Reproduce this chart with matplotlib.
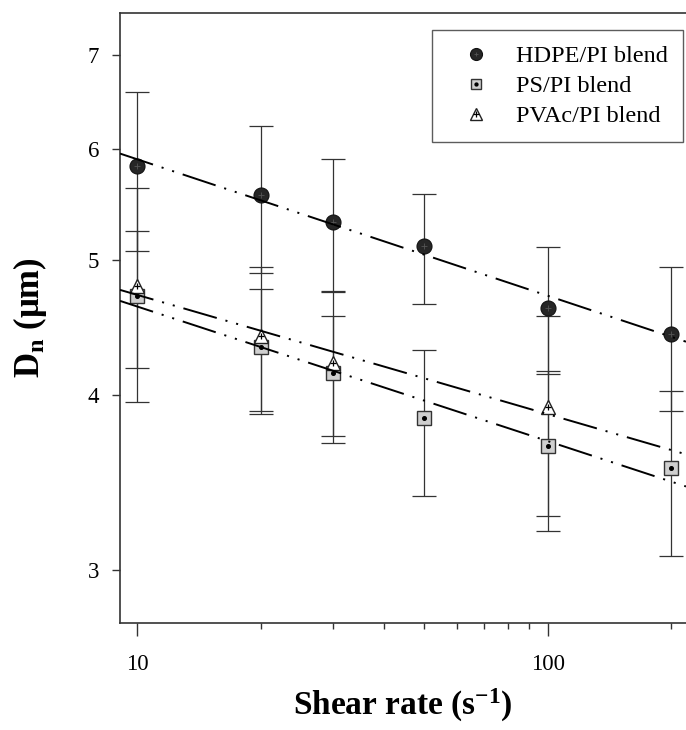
import numpy as np
import matplotlib
matplotlib.use("Agg")
import matplotlib.pyplot as plt
import matplotlib.ticker as mtick

plt.rcParams['font.family'] = ['Liberation Serif', 'DejaVu Serif']
plt.rcParams['mathtext.fontset'] = 'custom'
plt.rcParams['mathtext.rm'] = 'Liberation Serif'
plt.rcParams['mathtext.bf'] = 'Liberation Serif:bold'
plt.rcParams['mathtext.it'] = 'Liberation Serif:italic'
plt.rcParams['lines.scale_dashes'] = False

# data
hdpe_x = [10, 20, 30, 50, 100, 200]
hdpe_y = [5.83, 5.56, 5.32, 5.11, 4.62, 4.42]
hdpe_err = [0.76, 0.67, 0.58, 0.46, 0.48, 0.52]

ps_x = [10, 20, 30, 50, 100, 200]
ps_y = [4.71, 4.33, 4.15, 3.85, 3.68, 3.55]
ps_err = [0.53, 0.43, 0.41, 0.46, 0.48, 0.48]

pvac_x = [10, 20, 30, 100]
pvac_y = [4.79, 4.41, 4.22, 3.92]
pvac_err = [0.835, 0.53, 0.525, 0.64]

labels = ["HDPE/PI blend", "PS/PI blend", "PVAc/PI blend"]
yticks = [3, 4, 5, 6, 7]

fig = plt.figure(figsize=(6.86, 7.30), dpi=100)
ax = fig.add_axes([0.175, 0.1466, 0.825, 0.8356])
ax.set_xscale('log')
ax.set_yscale('log')
ax.set_xlim(9.09, 217)
ax.set_ylim(2.75, 7.5)

dash = (25, 6.5, 1.5, 6.5, 1.5, 6.5)
xs = np.logspace(np.log10(9.09), np.log10(217), 50)

def fitline(x, y):
    p = np.polyfit(np.log10(x), np.log10(y), 1)
    ax.plot(xs, 10**np.polyval(p, np.log10(xs)), color='black', lw=1.4,
            dashes=dash, zorder=4)

for x, y, e in [(hdpe_x, hdpe_y, hdpe_err), (ps_x, ps_y, ps_err), (pvac_x, pvac_y, pvac_err)]:
    ax.errorbar(x, y, yerr=e, fmt='none', ecolor='#333333', elinewidth=0.9,
                capsize=8.5, capthick=0.9, zorder=2)

fitline(hdpe_x, hdpe_y)
fitline(ps_x, ps_y)
fitline(pvac_x, pvac_y)

h1, = ax.plot(hdpe_x, hdpe_y, 'o', ms=10.8, mfc='#262626', mec='#111111', mew=0.8, ls='', zorder=3)
h1c, = ax.plot(hdpe_x, hdpe_y, '+', ms=4, mec='#555555', mew=0.6, ls='', zorder=3)
h2, = ax.plot(ps_x, ps_y, 's', ms=9.5, mfc='#cfcfcf', mec='#333333', mew=1.0, ls='', zorder=3)
h2c, = ax.plot(ps_x, ps_y, 'o', ms=2.6, mfc='black', mec='black', ls='', zorder=3)
h3, = ax.plot(pvac_x, pvac_y, '^', ms=10.5, mfc='white', mec='#222222', mew=1.0, ls='', zorder=3)
h3c, = ax.plot(pvac_x, pvac_y, '+', ms=5, mec='black', mew=0.9, ls='', zorder=3)

ax.set_yticks(yticks)
ax.yaxis.set_major_formatter(mtick.FormatStrFormatter('%d'))
ax.yaxis.set_minor_locator(mtick.NullLocator())
ax.xaxis.set_major_formatter(mtick.FormatStrFormatter('%d'))
ax.xaxis.set_minor_formatter(mtick.NullFormatter())

ax.tick_params(axis='both', which='major', direction='out', labelsize=16.5, width=1.0, color='#333333')
ax.tick_params(axis='y', which='major', length=6, pad=9)
ax.tick_params(axis='x', which='major', length=9, pad=13)
ax.tick_params(axis='x', which='minor', direction='out', length=4.5, width=1.0, color='#333333')

for s in ['left', 'top', 'bottom']:
    ax.spines[s].set_linewidth(1.2)
    ax.spines[s].set_color('#333333')
ax.spines['right'].set_visible(False)

ax.set_xlabel(r"Shear rate (s$^{\mathbf{-1}}$)", fontsize=24, fontweight='bold', labelpad=9)
ax.set_ylabel(r"$\mathbf{D_n}$ (μm)", fontsize=25, fontweight='bold', labelpad=28)

leg = ax.legend([(h1, h1c), (h2, h2c), (h3, h3c)], labels, loc='upper right',
                bbox_to_anchor=(0.995, 0.972), borderaxespad=0, fontsize=17.5,
                frameon=True, fancybox=False, edgecolor='#333333', markerscale=0.8,
                handlelength=2.4, handletextpad=0.45, borderpad=0.62, labelspacing=0.33)
leg.get_frame().set_linewidth(1.0)

fig.savefig('out.png', dpi=100)
